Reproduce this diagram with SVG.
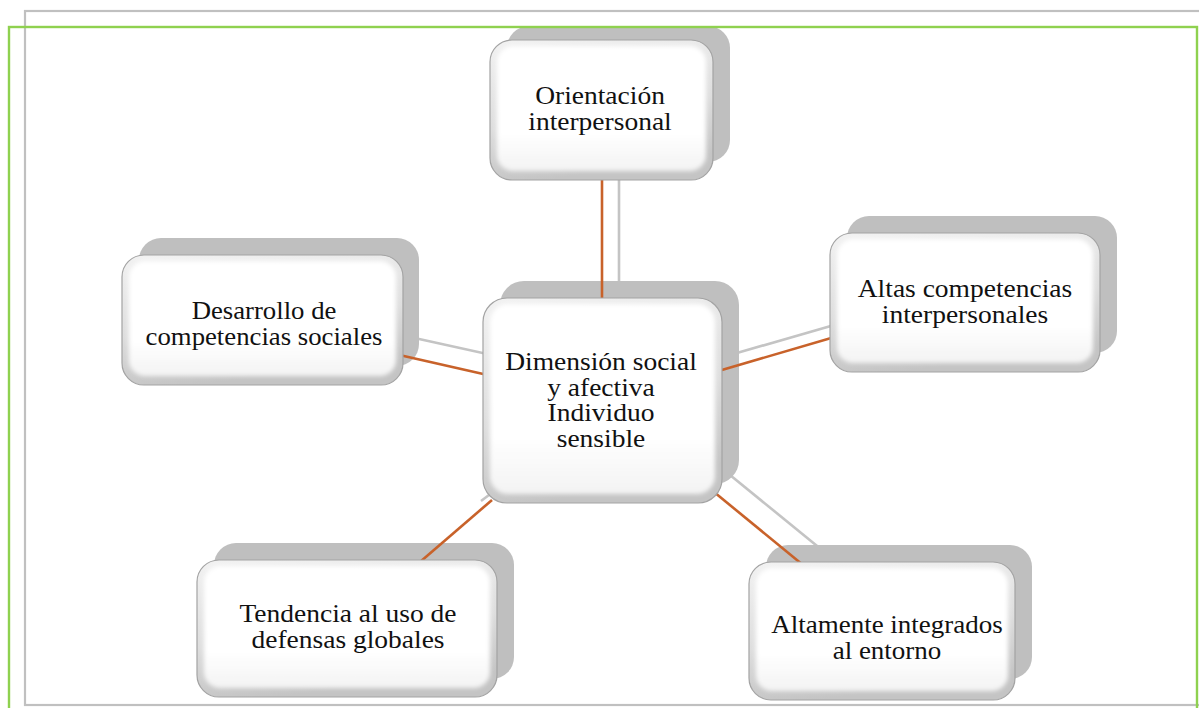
<svg xmlns="http://www.w3.org/2000/svg" width="1199" height="708" viewBox="0 0 1199 708">
  <defs>
    <linearGradient id="rim" x1="0" y1="0" x2="0.25" y2="1">
      <stop offset="0" stop-color="#f2f2f2"/>
      <stop offset="0.6" stop-color="#dedede"/>
      <stop offset="1" stop-color="#c4c4c4"/>
    </linearGradient>
    <linearGradient id="face" x1="0" y1="0" x2="0" y2="1">
      <stop offset="0" stop-color="#ffffff"/>
      <stop offset="0.7" stop-color="#ffffff"/>
      <stop offset="1" stop-color="#f3f3f3"/>
    </linearGradient>
    <filter id="soft" x="-5%" y="-5%" width="110%" height="110%">
      <feGaussianBlur stdDeviation="2.2"/>
    </filter>
  </defs>
  <style>
    .shadow { fill: #bfbfbf; }
    .rim { fill: url(#rim); stroke: #a3a3a3; stroke-width: 1.2; }
    .face { fill: url(#face); filter: url(#soft); }
    .link { stroke: #c8622a; stroke-width: 2.6; fill: none; }
    .link-shadow { stroke: #c4c4c4; stroke-width: 2.6; fill: none; }
    .label { font-family: "Liberation Serif", "Times New Roman", serif; font-size: 25px; fill: #111111; text-anchor: middle; }
    .frame-gray { fill: none; stroke: #c0c0c0; stroke-width: 2.2; }
    .frame-green { fill: none; stroke: #8fd14f; stroke-width: 2.4; }
  </style>

  <rect width="1199" height="708" fill="#ffffff"/>

  <!-- drop layer: connector shadows and box shadows -->
  <g id="connector-shadows">
    <line class="link-shadow" x1="619" y1="150" x2="619" y2="290"/>
    <line class="link-shadow" x1="410" y1="337" x2="510" y2="359"/>
    <line class="link-shadow" x1="730" y1="355" x2="855" y2="319"/>
    <line class="link-shadow" x1="481" y1="501" x2="505" y2="483"/>
    <line class="link-shadow" x1="730" y1="475" x2="822" y2="550"/>
  </g>
  <g id="box-shadows">
    <rect class="shadow" x="507" y="26" width="223" height="136" rx="22"/>
    <rect class="shadow" x="500" y="281" width="239" height="203" rx="24"/>
    <rect class="shadow" x="139" y="238" width="280" height="128" rx="22"/>
    <rect class="shadow" x="847" y="216" width="270" height="137" rx="22"/>
    <rect class="shadow" x="214" y="543" width="300" height="136" rx="22"/>
    <rect class="shadow" x="766" y="545" width="266" height="134" rx="22"/>
  </g>

  <!-- connectors from the central node to each satellite -->
  <g id="connectors">
    <line class="link" x1="602" y1="170" x2="602" y2="305"/>
    <line class="link" x1="395" y1="354" x2="492" y2="376"/>
    <line class="link" x1="715" y1="372" x2="838" y2="336"/>
    <line class="link" x1="420" y1="562" x2="492" y2="500"/>
    <line class="link" x1="714" y1="492" x2="803" y2="565"/>
  </g>

  <g id="node-orientacion">
    <rect class="rim" x="490" y="40" width="223" height="140" rx="22"/>
    <rect class="face" x="497" y="46" width="209" height="125" rx="16"/>
    <g transform="translate(600 0) scale(1.1 1)">
      <text class="label" x="0" y="104">Orientación</text>
      <text class="label" x="0" y="130">interpersonal</text>
    </g>
  </g>

  <g id="node-central">
    <rect class="rim" x="483" y="298" width="239" height="205" rx="24"/>
    <rect class="face" x="490" y="304" width="225" height="190" rx="18"/>
    <g transform="translate(601 0) scale(1.1 1)">
      <text class="label" x="0" y="370">Dimensión social</text>
      <text class="label" x="0" y="396">y afectiva</text>
      <text class="label" x="0" y="421">Individuo</text>
      <text class="label" x="0" y="447">sensible</text>
    </g>
  </g>

  <g id="node-desarrollo">
    <rect class="rim" x="122" y="255" width="281" height="130" rx="22"/>
    <rect class="face" x="129" y="261" width="267" height="115" rx="16"/>
    <g transform="translate(264 0) scale(1.07 1)">
      <text class="label" x="0" y="319">Desarrollo de</text>
      <text class="label" x="0" y="345">competencias sociales</text>
    </g>
  </g>

  <g id="node-altas">
    <rect class="rim" x="830" y="233" width="270" height="139" rx="22"/>
    <rect class="face" x="837" y="239" width="256" height="124" rx="16"/>
    <g transform="translate(965 0) scale(1.1 1)">
      <text class="label" x="0" y="297">Altas competencias</text>
      <text class="label" x="0" y="323">interpersonales</text>
    </g>
  </g>

  <g id="node-tendencia">
    <rect class="rim" x="197" y="560" width="300" height="137" rx="22"/>
    <rect class="face" x="204" y="566" width="286" height="122" rx="16"/>
    <g transform="translate(348 0) scale(1.1 1)">
      <text class="label" x="0" y="622">Tendencia al uso de</text>
      <text class="label" x="0" y="648">defensas globales</text>
    </g>
  </g>

  <g id="node-integrados">
    <rect class="rim" x="749" y="562" width="266" height="138" rx="22"/>
    <rect class="face" x="756" y="568" width="252" height="123" rx="16"/>
    <g transform="translate(887 0) scale(1.08 1)">
      <text class="label" x="0" y="633">Altamente integrados</text>
      <text class="label" x="0" y="659">al entorno</text>
    </g>
  </g>

  <!-- page frames -->
  <rect class="frame-gray" x="25" y="11" width="1190" height="694"/>
  <rect class="frame-green" x="9" y="27" width="1188" height="700"/>
</svg>
